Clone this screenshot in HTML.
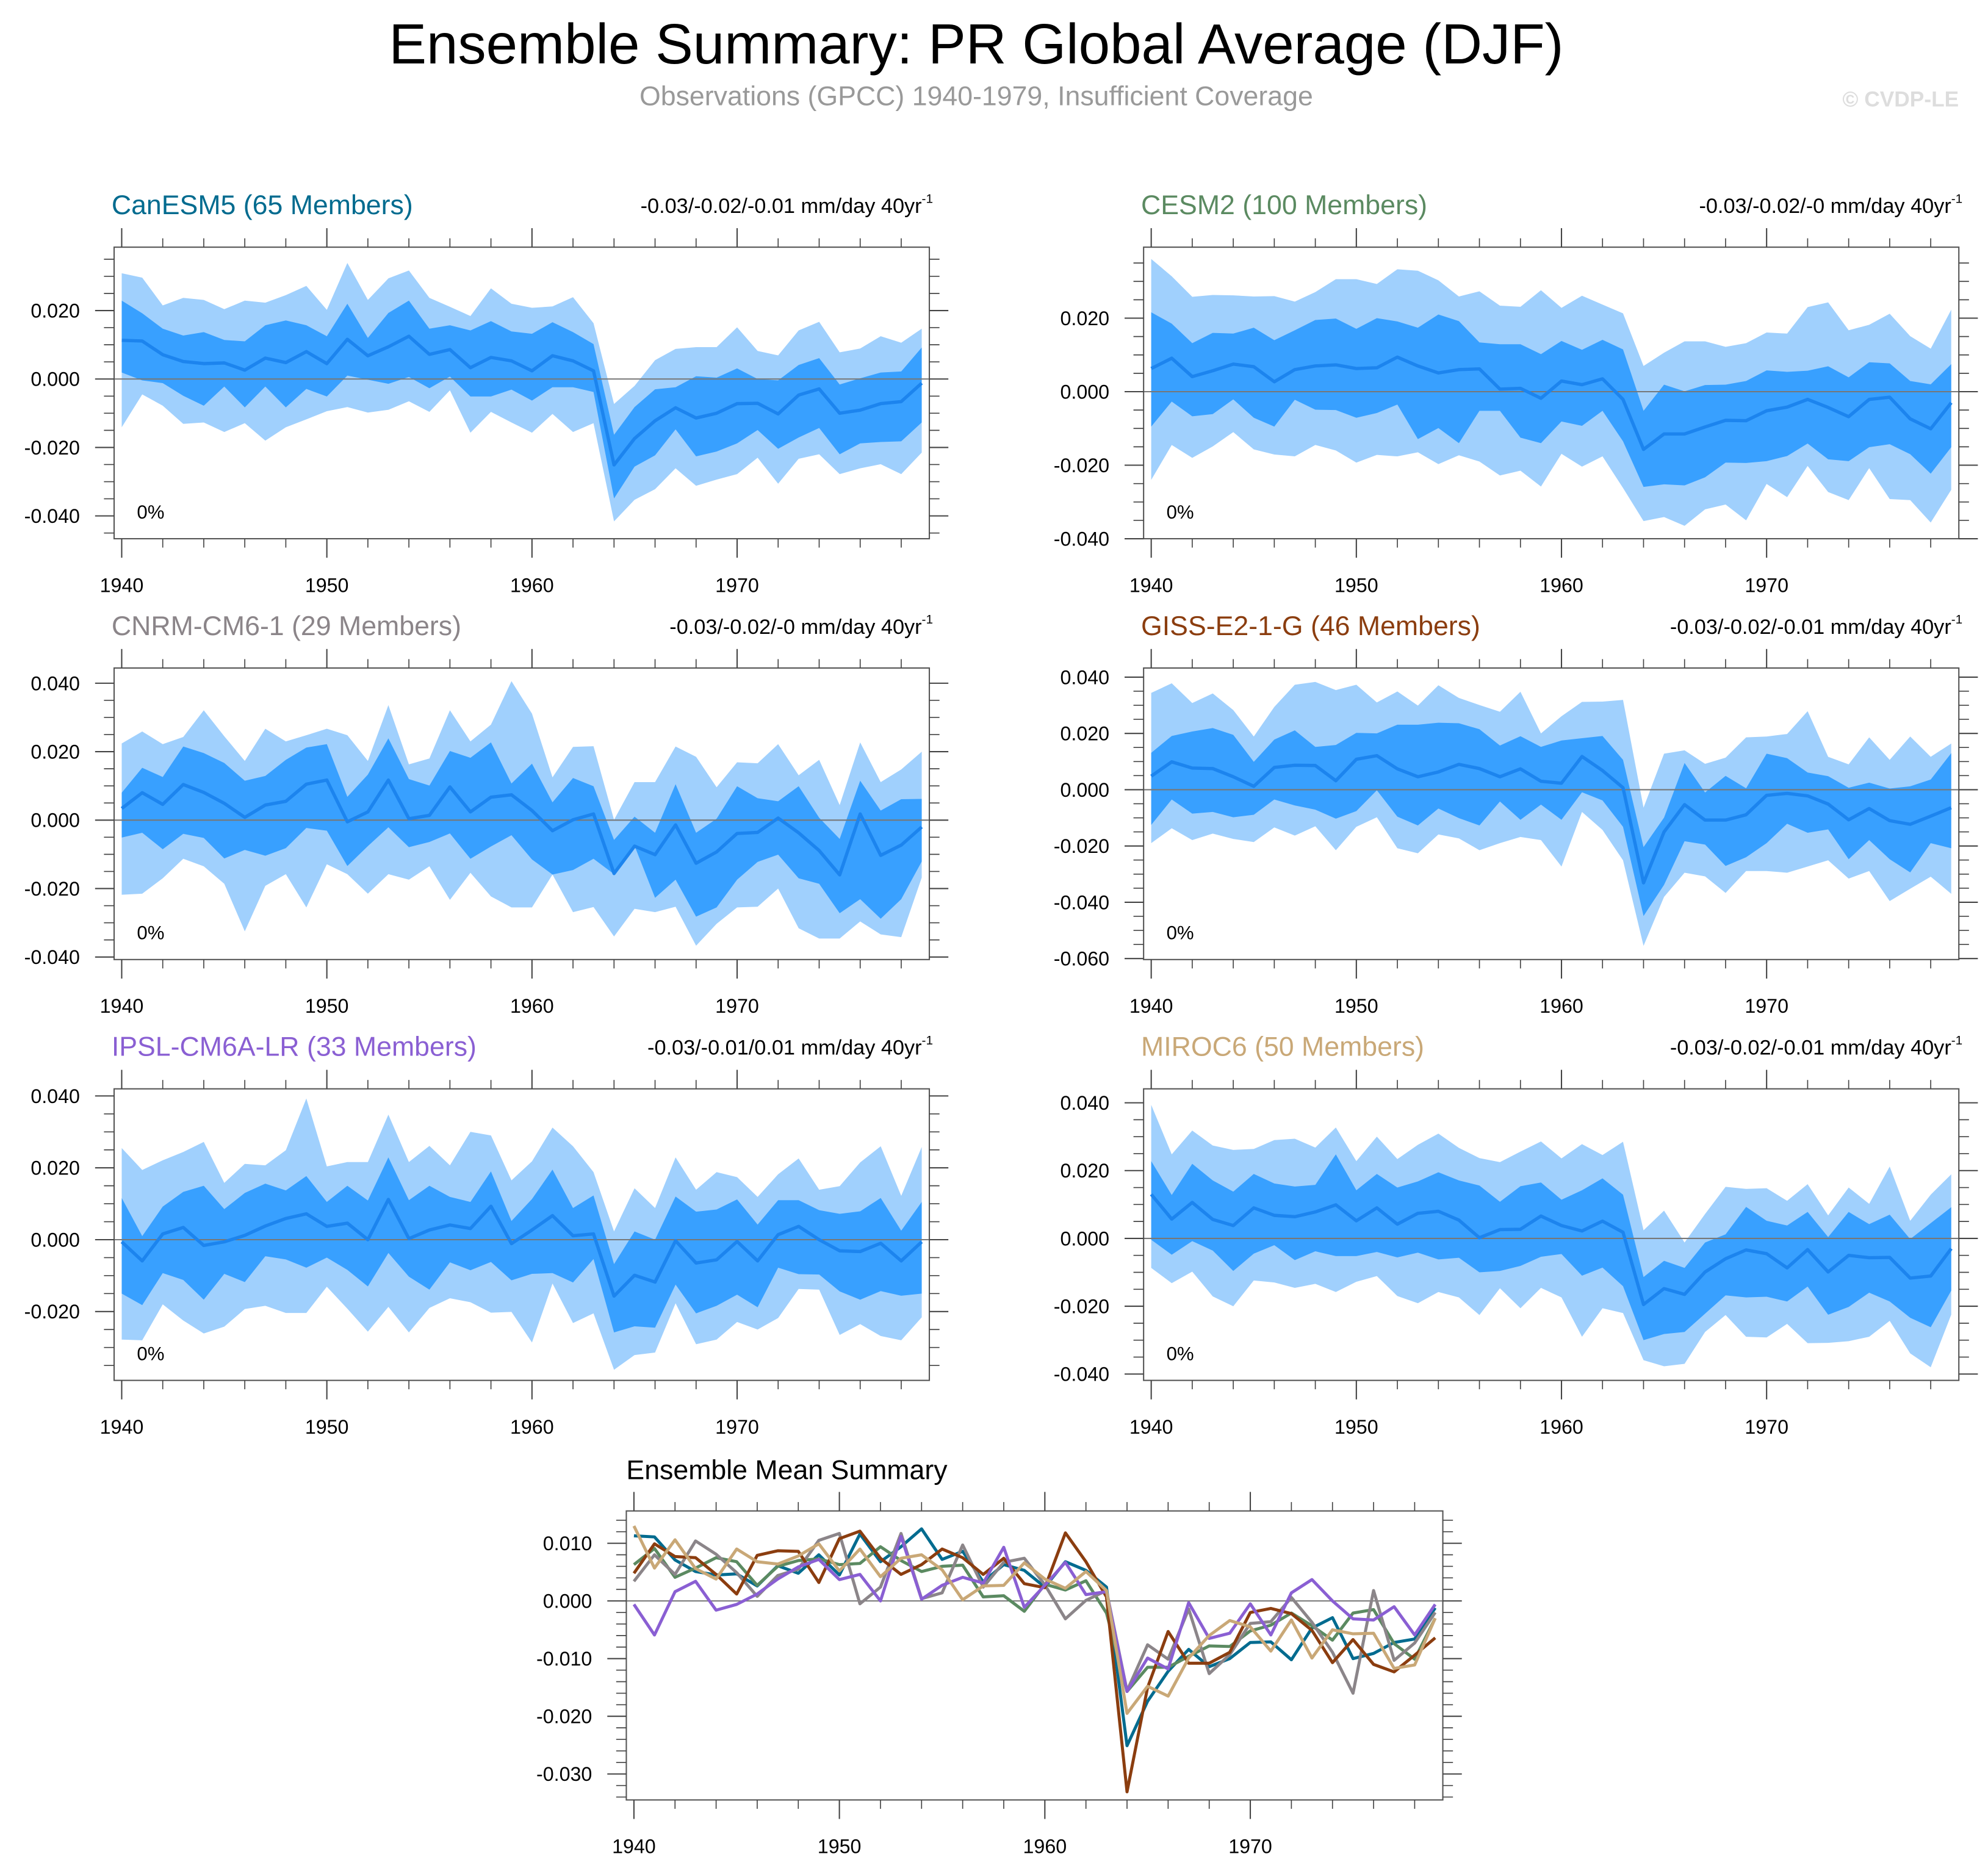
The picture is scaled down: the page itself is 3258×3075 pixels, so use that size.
<!DOCTYPE html>
<html><head><meta charset="utf-8"><title>Ensemble Summary: PR Global Average (DJF)</title>
<style>
html,body{margin:0;padding:0;background:#fff;}
svg{display:block;font-family:"Liberation Sans",sans-serif;}
</style></head>
<body>
<svg id="chart" xmlns="http://www.w3.org/2000/svg" width="3258" height="3075" viewBox="0 0 1568 1480" preserveAspectRatio="none">
<text x="770" y="50" font-size="44.5" text-anchor="middle" fill="#000">Ensemble Summary: PR Global Average (DJF)</text>
<text x="770" y="83" font-size="21.5" text-anchor="middle" fill="#999">Observations (GPCC) 1940-1979, Insufficient Coverage</text>
<text x="1545" y="84" font-size="17" font-weight="bold" text-anchor="end" fill="#ddd">© CVDP-LE</text>
<g id="panels"></g>
</svg>
<script>
const years = [];
for (let y = 1940; y <= 1979; y++) years.push(y);
const modelNames = ["CanESM5 (65 Members)","CESM2 (100 Members)","CNRM-CM6-1 (29 Members)","GISS-E2-1-G (46 Members)","IPSL-CM6A-LR (33 Members)","MIROC6 (50 Members)"];
const trendLabels = ["-0.03/-0.02/-0.01 mm/day 40yr","-0.03/-0.02/-0 mm/day 40yr","-0.03/-0.02/-0 mm/day 40yr","-0.03/-0.02/-0.01 mm/day 40yr","-0.03/-0.01/0.01 mm/day 40yr","-0.03/-0.02/-0.01 mm/day 40yr"];
const modelColors = ["#006b8f","#5b8a61","#8b8589","#8b3d0f","#8a5fd3","#c9a877"];
const xTickLabels = [1940,1950,1960,1970];

const canMean=[0.0113,0.0111,0.0071,0.0051,0.0045,0.0047,0.0026,0.0061,0.0048,0.0080,0.0045,0.0116,0.0068,0.0094,0.0125,0.0072,0.0086,0.0033,0.0063,0.0053,0.0024,0.0068,0.0053,0.0024,-0.0251,-0.0174,-0.0122,-0.0084,-0.0114,-0.0100,-0.0072,-0.0071,-0.0102,-0.0047,-0.0029,-0.0100,-0.0091,-0.0072,-0.0066,-0.0012];
const canDarkHi=[0.0229,0.0192,0.0147,0.0127,0.0137,0.0114,0.0110,0.0157,0.0171,0.0157,0.0125,0.0220,0.0120,0.0193,0.0229,0.0147,0.0157,0.0142,0.0169,0.0139,0.0132,0.0166,0.0137,0.0102,-0.0163,-0.0082,-0.0030,-0.0024,0.0008,0.0004,0.0031,0.0000,-0.0004,0.0041,0.0061,-0.0016,0.0002,0.0019,0.0022,0.0092];
const canDarkLo=[0.0019,-0.0004,-0.0012,-0.0049,-0.0078,-0.0022,-0.0083,-0.0022,-0.0083,-0.0029,-0.0051,0.0010,-0.0002,-0.0014,0.0006,-0.0027,0.0007,-0.0051,-0.0051,-0.0031,-0.0063,-0.0024,-0.0024,-0.0038,-0.0349,-0.0256,-0.0223,-0.0147,-0.0226,-0.0212,-0.0188,-0.0149,-0.0204,-0.0171,-0.0143,-0.0220,-0.0188,-0.0184,-0.0182,-0.0127];
const canLightHi=[0.0309,0.0296,0.0215,0.0237,0.0231,0.0204,0.0229,0.0223,0.0245,0.0272,0.0202,0.0339,0.0231,0.0294,0.0317,0.0237,0.0211,0.0184,0.0265,0.0220,0.0208,0.0212,0.0239,0.0163,-0.0073,-0.0020,0.0055,0.0088,0.0093,0.0093,0.0151,0.0082,0.0069,0.0142,0.0167,0.0078,0.0089,0.0125,0.0106,0.0147];
const canLightLo=[-0.0141,-0.0045,-0.0078,-0.0131,-0.0127,-0.0155,-0.0129,-0.0180,-0.0141,-0.0118,-0.0094,-0.0082,-0.0098,-0.0090,-0.0065,-0.0096,-0.0033,-0.0157,-0.0096,-0.0127,-0.0157,-0.0102,-0.0155,-0.0129,-0.0416,-0.0353,-0.0322,-0.0261,-0.0312,-0.0294,-0.0278,-0.0230,-0.0306,-0.0233,-0.0220,-0.0278,-0.0261,-0.0249,-0.0278,-0.0215];

const cesMean=[0.0063,0.0091,0.0041,0.0057,0.0075,0.0068,0.0027,0.0060,0.0070,0.0073,0.0063,0.0065,0.0094,0.0070,0.0051,0.0060,0.0062,0.0007,0.0009,-0.0018,0.0029,0.0019,0.0035,-0.0021,-0.0157,-0.0115,-0.0115,-0.0096,-0.0078,-0.0079,-0.0052,-0.0042,-0.0021,-0.0043,-0.0068,-0.0021,-0.0015,-0.0074,-0.0101,-0.0030];
const cesDarkHi=[0.0216,0.0185,0.0132,0.0160,0.0158,0.0174,0.0140,0.0167,0.0195,0.0199,0.0171,0.0200,0.0191,0.0174,0.0210,0.0192,0.0134,0.0129,0.0129,0.0102,0.0138,0.0114,0.0141,0.0115,-0.0052,0.0019,0.0001,0.0018,0.0019,0.0029,0.0058,0.0054,0.0057,0.0069,0.0039,0.0080,0.0077,0.0029,0.0020,0.0075];
const cesDarkLo=[-0.0095,-0.0027,-0.0067,-0.0061,-0.0021,-0.0071,-0.0095,-0.0022,-0.0049,-0.0050,-0.0071,-0.0058,-0.0035,-0.0129,-0.0099,-0.0140,-0.0052,-0.0052,-0.0125,-0.0140,-0.0081,-0.0093,-0.0052,-0.0135,-0.0259,-0.0252,-0.0255,-0.0233,-0.0193,-0.0194,-0.0189,-0.0175,-0.0141,-0.0184,-0.0189,-0.0151,-0.0143,-0.0170,-0.0223,-0.0151];
const cesLightHi=[0.0361,0.0314,0.0258,0.0263,0.0262,0.0259,0.0260,0.0245,0.0271,0.0306,0.0306,0.0293,0.0333,0.0329,0.0303,0.0259,0.0273,0.0234,0.0231,0.0276,0.0228,0.0261,0.0237,0.0213,0.0070,0.0106,0.0137,0.0137,0.0122,0.0132,0.0161,0.0158,0.0230,0.0243,0.0167,0.0182,0.0212,0.0151,0.0117,0.0223];
const cesLightLo=[-0.0240,-0.0145,-0.0180,-0.0149,-0.0110,-0.0157,-0.0171,-0.0176,-0.0145,-0.0160,-0.0193,-0.0172,-0.0176,-0.0165,-0.0197,-0.0173,-0.0190,-0.0228,-0.0215,-0.0258,-0.0169,-0.0204,-0.0176,-0.0262,-0.0352,-0.0341,-0.0365,-0.0320,-0.0307,-0.0350,-0.0251,-0.0287,-0.0202,-0.0273,-0.0295,-0.0208,-0.0292,-0.0295,-0.0356,-0.0267];

const cnrMean=[0.0034,0.0080,0.0046,0.0104,0.0081,0.0049,0.0008,0.0044,0.0055,0.0105,0.0117,-0.0005,0.0024,0.0117,0.0004,0.0014,0.0097,0.0024,0.0067,0.0074,0.0028,-0.0031,0.0001,0.0018,-0.0156,-0.0076,-0.0101,-0.0014,-0.0126,-0.0093,-0.0039,-0.0036,0.0006,-0.0037,-0.0089,-0.0160,0.0018,-0.0103,-0.0073,-0.0020];
const cnrDarkHi=[0.0080,0.0153,0.0126,0.0215,0.0196,0.0167,0.0115,0.0129,0.0176,0.0212,0.0222,0.0068,0.0133,0.0239,0.0120,0.0101,0.0202,0.0182,0.0227,0.0107,0.0165,0.0052,0.0123,0.0099,-0.0058,0.0010,-0.0037,0.0105,-0.0037,0.0004,0.0099,0.0064,0.0055,0.0099,0.0007,-0.0055,0.0115,0.0028,0.0061,0.0062];
const cnrDarkLo=[-0.0051,-0.0037,-0.0085,-0.0040,-0.0052,-0.0112,-0.0087,-0.0104,-0.0082,-0.0023,-0.0031,-0.0134,-0.0076,-0.0021,-0.0079,-0.0064,-0.0039,-0.0113,-0.0077,-0.0044,-0.0115,-0.0159,-0.0146,-0.0113,-0.0158,-0.0075,-0.0227,-0.0174,-0.0282,-0.0255,-0.0174,-0.0122,-0.0101,-0.0170,-0.0186,-0.0272,-0.0231,-0.0288,-0.0231,-0.0121];
const cnrLightHi=[0.0224,0.0259,0.0222,0.0243,0.0321,0.0245,0.0173,0.0267,0.0230,0.0248,0.0267,0.0248,0.0173,0.0336,0.0163,0.0180,0.0321,0.0230,0.0279,0.0406,0.0311,0.0125,0.0214,0.0216,0.0001,0.0111,0.0111,0.0215,0.0185,0.0096,0.0169,0.0166,0.0222,0.0131,0.0176,0.0044,0.0227,0.0111,0.0148,0.0200];
const cnrLightLo=[-0.0218,-0.0215,-0.0170,-0.0113,-0.0135,-0.0186,-0.0325,-0.0192,-0.0158,-0.0255,-0.0129,-0.0158,-0.0215,-0.0158,-0.0174,-0.0135,-0.0233,-0.0154,-0.0223,-0.0255,-0.0255,-0.0159,-0.0269,-0.0254,-0.0340,-0.0259,-0.0269,-0.0253,-0.0367,-0.0303,-0.0255,-0.0253,-0.0200,-0.0316,-0.0346,-0.0346,-0.0296,-0.0334,-0.0342,-0.0168];

const gisMean=[0.0048,0.0099,0.0077,0.0075,0.0046,0.0012,0.0079,0.0087,0.0086,0.0032,0.0108,0.0121,0.0074,0.0046,0.0063,0.0090,0.0075,0.0046,0.0074,0.0030,0.0023,0.0118,0.0068,0.0007,-0.0331,-0.0150,-0.0053,-0.0108,-0.0108,-0.0089,-0.0020,-0.0013,-0.0022,-0.0051,-0.0107,-0.0067,-0.0110,-0.0123,-0.0094,-0.0064];
const gisDarkHi=[0.0131,0.0191,0.0207,0.0219,0.0195,0.0099,0.0178,0.0211,0.0152,0.0159,0.0202,0.0200,0.0231,0.0231,0.0238,0.0236,0.0215,0.0157,0.0190,0.0152,0.0175,0.0183,0.0191,0.0106,-0.0204,-0.0099,0.0095,-0.0010,0.0049,0.0005,0.0128,0.0112,0.0061,0.0048,0.0007,0.0025,0.0004,0.0012,0.0036,0.0130];
const gisDarkLo=[-0.0125,-0.0035,-0.0085,-0.0079,-0.0098,-0.0089,-0.0035,-0.0056,-0.0071,-0.0103,-0.0076,-0.0002,-0.0096,-0.0127,-0.0067,-0.0101,-0.0127,-0.0042,-0.0107,-0.0053,-0.0107,-0.0009,-0.0038,-0.0132,-0.0449,-0.0338,-0.0183,-0.0195,-0.0271,-0.0240,-0.0190,-0.0121,-0.0153,-0.0141,-0.0247,-0.0179,-0.0247,-0.0294,-0.0190,-0.0208];
const gisLightHi=[0.0344,0.0378,0.0308,0.0342,0.0283,0.0189,0.0294,0.0373,0.0383,0.0354,0.0373,0.0310,0.0349,0.0299,0.0371,0.0326,0.0301,0.0277,0.0348,0.0200,0.0261,0.0312,0.0313,0.0319,-0.0064,0.0128,0.0140,0.0092,0.0114,0.0186,0.0189,0.0198,0.0279,0.0117,0.0090,0.0186,0.0106,0.0189,0.0117,0.0164];
const gisLightLo=[-0.0190,-0.0137,-0.0179,-0.0156,-0.0175,-0.0186,-0.0134,-0.0163,-0.0130,-0.0215,-0.0132,-0.0098,-0.0208,-0.0226,-0.0159,-0.0173,-0.0215,-0.0190,-0.0168,-0.0179,-0.0273,-0.0079,-0.0143,-0.0251,-0.0555,-0.0381,-0.0295,-0.0308,-0.0367,-0.0289,-0.0289,-0.0295,-0.0273,-0.0251,-0.0316,-0.0289,-0.0396,-0.0352,-0.0309,-0.0370];

const ipsMean=[-0.0006,-0.0059,0.0016,0.0034,-0.0016,-0.0006,0.0012,0.0038,0.0059,0.0072,0.0037,0.0046,0.0000,0.0112,0.0003,0.0027,0.0041,0.0031,0.0093,-0.0011,0.0027,0.0067,0.0011,0.0016,-0.0157,-0.0099,-0.0118,-0.0003,-0.0065,-0.0056,-0.0005,-0.0059,0.0014,0.0037,0.0000,-0.0031,-0.0033,-0.0010,-0.0059,-0.0006];
const ipsDarkHi=[0.0116,0.0010,0.0092,0.0133,0.0150,0.0085,0.0130,0.0156,0.0137,0.0177,0.0105,0.0150,0.0109,0.0229,0.0110,0.0150,0.0119,0.0105,0.0190,0.0052,0.0113,0.0195,0.0088,0.0123,-0.0068,0.0023,0.0000,0.0120,0.0078,0.0084,0.0112,0.0042,0.0110,0.0110,0.0082,0.0072,0.0079,0.0116,0.0025,0.0105];
const ipsDarkLo=[-0.0150,-0.0182,-0.0093,-0.0112,-0.0167,-0.0095,-0.0118,-0.0046,-0.0055,-0.0078,-0.0050,-0.0084,-0.0130,-0.0037,-0.0103,-0.0139,-0.0063,-0.0085,-0.0062,-0.0113,-0.0095,-0.0093,-0.0119,-0.0054,-0.0258,-0.0241,-0.0245,-0.0125,-0.0205,-0.0184,-0.0153,-0.0188,-0.0078,-0.0096,-0.0097,-0.0144,-0.0167,-0.0143,-0.0156,-0.0150];
const ipsLightHi=[0.0255,0.0194,0.0221,0.0244,0.0272,0.0158,0.0211,0.0207,0.0249,0.0393,0.0204,0.0216,0.0216,0.0348,0.0216,0.0261,0.0207,0.0300,0.0290,0.0165,0.0218,0.0312,0.0260,0.0188,0.0023,0.0143,0.0088,0.0229,0.0139,0.0188,0.0174,0.0119,0.0182,0.0226,0.0139,0.0149,0.0215,0.0260,0.0122,0.0258];
const ipsLightLo=[-0.0278,-0.0280,-0.0180,-0.0225,-0.0261,-0.0242,-0.0193,-0.0184,-0.0204,-0.0204,-0.0131,-0.0192,-0.0256,-0.0187,-0.0258,-0.0190,-0.0163,-0.0174,-0.0203,-0.0201,-0.0286,-0.0122,-0.0232,-0.0205,-0.0362,-0.0321,-0.0314,-0.0177,-0.0291,-0.0278,-0.0229,-0.0250,-0.0218,-0.0137,-0.0139,-0.0265,-0.0235,-0.0268,-0.0280,-0.0216];

const mirMean=[0.0130,0.0057,0.0106,0.0056,0.0038,0.0090,0.0068,0.0064,0.0078,0.0099,0.0052,0.0090,0.0042,0.0074,0.0080,0.0054,0.0002,0.0026,0.0027,0.0066,0.0038,0.0022,0.0051,0.0018,-0.0195,-0.0148,-0.0165,-0.0099,-0.0060,-0.0034,-0.0045,-0.0087,-0.0033,-0.0099,-0.0050,-0.0057,-0.0056,-0.0117,-0.0111,-0.0030];
const mirDarkHi=[0.0228,0.0128,0.0220,0.0171,0.0138,0.0190,0.0162,0.0153,0.0158,0.0248,0.0142,0.0190,0.0150,0.0168,0.0195,0.0171,0.0156,0.0108,0.0154,0.0165,0.0114,0.0142,0.0177,0.0129,-0.0114,-0.0066,-0.0087,-0.0012,0.0012,0.0093,0.0052,0.0038,0.0078,0.0004,0.0078,0.0042,0.0070,-0.0002,0.0045,0.0092];
const mirDarkLo=[-0.0004,-0.0048,-0.0008,-0.0036,-0.0096,-0.0045,-0.0020,-0.0064,-0.0038,-0.0052,-0.0052,-0.0040,-0.0056,-0.0042,-0.0062,-0.0057,-0.0100,-0.0096,-0.0081,-0.0054,-0.0046,-0.0110,-0.0086,-0.0141,-0.0300,-0.0282,-0.0276,-0.0222,-0.0168,-0.0174,-0.0172,-0.0186,-0.0142,-0.0225,-0.0202,-0.0160,-0.0186,-0.0234,-0.0262,-0.0154];
const mirLightHi=[0.0394,0.0248,0.0318,0.0274,0.0261,0.0264,0.0290,0.0294,0.0268,0.0327,0.0228,0.0300,0.0234,0.0276,0.0309,0.0267,0.0237,0.0225,0.0256,0.0286,0.0236,0.0278,0.0246,0.0285,0.0024,0.0082,-0.0012,0.0072,0.0152,0.0146,0.0148,0.0111,0.0160,0.0068,0.0150,0.0102,0.0212,0.0052,0.0129,0.0189];
const mirLightLo=[-0.0087,-0.0132,-0.0098,-0.0171,-0.0200,-0.0124,-0.0130,-0.0146,-0.0134,-0.0158,-0.0128,-0.0111,-0.0170,-0.0191,-0.0158,-0.0174,-0.0226,-0.0147,-0.0206,-0.0146,-0.0174,-0.0290,-0.0206,-0.0220,-0.0359,-0.0377,-0.0370,-0.0276,-0.0226,-0.0290,-0.0292,-0.0252,-0.0309,-0.0308,-0.0303,-0.0290,-0.0243,-0.0339,-0.0380,-0.0225];

const yTicks1=[0.02,0,-0.02,-0.04];
const yTicks2=[0.02,0,-0.02,-0.04];
const yTicks3=[0.04,0.02,0,-0.02,-0.04];
const yTicks4=[0.04,0.02,0,-0.02,-0.04,-0.06];
const yTicks5=[0.04,0.02,0,-0.02];
const yTicks6=[0.04,0.02,0,-0.02,-0.04];
const yTicksSummary=[0.01,0,-0.01,-0.02,-0.03];

const NS="http://www.w3.org/2000/svg";
const root=document.getElementById('panels');
function mk(tag,attrs,parent){const e=document.createElementNS(NS,tag);for(const k in attrs)e.setAttribute(k,attrs[k]);(parent||root).appendChild(e);return e;}

function makeAxes(L){
  const xs=y=>L.x0+6+(y-1940)*(L.x1-L.x0-12)/39;
  const ys=v=>L.zeroY-v*100*L.pxPer;
  return {xs,ys};
}
function fmt(v){return v.toFixed(3);}

function drawFrame(g,L,ax,yTicks,minorStep){
  const tickCol="#444";
  const vTop=(L.zeroY-L.y0)/(L.pxPer*100), vBot=(L.zeroY-L.y1)/(L.pxPer*100);
  for(let k=Math.ceil(vBot/minorStep-1e-6);k*minorStep<=vTop+1e-9;k++){
    const v=k*minorStep, y=ax.ys(v);
    const major=yTicks.some(t=>Math.abs(t-v)<1e-9);
    const len=major?15:8;
    const t1=mk('line',{x1:L.x0-len,x2:L.x0,y1:y,y2:y,stroke:tickCol,'stroke-width':major?1:0.8},g);
    
    
    const t2=mk('line',{x1:L.x1,x2:L.x1+len,y1:y,y2:y,stroke:tickCol,'stroke-width':major?1:0.8},g);
    
    
  }
  yTicks.forEach(v=>{
    const t=mk('text',{x:L.x0-27,y:ax.ys(v)+5.5,'font-size':15.5,'text-anchor':'end',fill:'#000'},g);
    t.textContent=fmt(v);
    
    
  });
  for(let yr=1940;yr<=1979;yr+=2){
    const x=ax.xs(yr), major=yr%10===0, len=major?15:7;
    const a=mk('line',{x1:x,x2:x,y1:L.y0-len,y2:L.y0,stroke:tickCol,'stroke-width':major?1:0.8},g);
    
    
    const b=mk('line',{x1:x,x2:x,y1:L.y1,y2:L.y1+len,stroke:tickCol,'stroke-width':major?1:0.8},g);
    
    
  }
  xTickLabels.forEach(yr=>{
    const t=mk('text',{x:ax.xs(yr),y:L.y1+42,'font-size':15.5,'text-anchor':'middle',fill:'#000'},g);
    t.textContent=String(yr);
    
    
  });
}

function polyPath(ax,hi,lo){
  let d='';
  hi.forEach((v,i)=>{d+=(i?'L':'M')+ax.xs(years[i]).toFixed(2)+','+ax.ys(v).toFixed(2);});
  for(let i=lo.length-1;i>=0;i--)d+='L'+ax.xs(years[i]).toFixed(2)+','+ax.ys(lo[i]).toFixed(2);
  return d+'Z';
}
function linePath(ax,arr){
  return arr.map((v,i)=>(i?'L':'M')+ax.xs(years[i]).toFixed(2)+','+ax.ys(v).toFixed(2)).join('');
}

const panels=[
 {L:{x0:90,x1:733,y0:195,y1:425,zeroY:299,pxPer:27},t:yTicks1,mean:canMean,dh:canDarkHi,dl:canDarkLo,lh:canLightHi,ll:canLightLo},
 {L:{x0:902,x1:1545,y0:195,y1:425,zeroY:309,pxPer:29},t:yTicks2,mean:cesMean,dh:cesDarkHi,dl:cesDarkLo,lh:cesLightHi,ll:cesLightLo},
 {L:{x0:90,x1:733,y0:527,y1:757,zeroY:647,pxPer:27},t:yTicks3,mean:cnrMean,dh:cnrDarkHi,dl:cnrDarkLo,lh:cnrLightHi,ll:cnrLightLo},
 {L:{x0:902,x1:1545,y0:527,y1:757,zeroY:623,pxPer:22.2},t:yTicks4,mean:gisMean,dh:gisDarkHi,dl:gisDarkLo,lh:gisLightHi,ll:gisLightLo},
 {L:{x0:90,x1:733,y0:859,y1:1089,zeroY:978,pxPer:28.35},t:yTicks5,mean:ipsMean,dh:ipsDarkHi,dl:ipsDarkLo,lh:ipsLightHi,ll:ipsLightLo},
 {L:{x0:902,x1:1545,y0:859,y1:1089,zeroY:977,pxPer:26.75},t:yTicks6,mean:mirMean,dh:mirDarkHi,dl:mirDarkLo,lh:mirLightHi,ll:mirLightLo}
];

panels.forEach((p,idx)=>{
  const g=mk('g',{});
  
  
  const L=p.L, ax=makeAxes(L);
  const bg=mk('rect',{x:L.x0,y:L.y0,width:L.x1-L.x0,height:L.y1-L.y0,fill:'#fff'},g);
  
  
  const clip=mk('clipPath',{id:'clip'+idx},g);
  mk('rect',{x:L.x0,y:L.y0,width:L.x1-L.x0,height:L.y1-L.y0},clip);
  const inner=mk('g',{'clip-path':'url(#clip'+idx+')'},g);
  const lb=mk('path',{d:polyPath(ax,p.lh,p.ll),fill:'#a0d0fd'},inner);
  
  
  const db=mk('path',{d:polyPath(ax,p.dh,p.dl),fill:'#38a0ff'},inner);
  
  
  const z=mk('line',{x1:L.x0,x2:L.x1,y1:ax.ys(0),y2:ax.ys(0),stroke:'#777','stroke-width':1},inner);
  
  
  const ml=mk('path',{d:linePath(ax,p.mean),fill:'none',stroke:'#1c84ee','stroke-width':2.6,'stroke-linejoin':'round'},inner);
  
  
  const fr=mk('rect',{x:L.x0,y:L.y0,width:L.x1-L.x0,height:L.y1-L.y0,fill:'none',stroke:'#555','stroke-width':1},g);
  
  
  drawFrame(g,L,ax,p.t,0.005);
  const tt=mk('text',{x:L.x0-2,y:L.y0-26,'font-size':21.5,fill:modelColors[idx]},g);
  tt.textContent=modelNames[idx];
  
  
  const tr=mk('text',{x:L.x1-6,y:L.y0-27,'font-size':16.5,'text-anchor':'end',fill:'#000'},g);
  tr.textContent=trendLabels[idx];
  
  
  const sup=mk('text',{x:L.x1-6,y:L.y0-35,'font-size':10,'text-anchor':'start',fill:'#000'},g);
  sup.textContent='-1';
  
  
  const pc=mk('text',{x:L.x0+18,y:L.y1-16,'font-size':15,fill:'#000'},g);
  pc.textContent='0%';
  
  
});

(function(){
  const L={x0:494,x1:1138,y0:1192,y1:1420,zeroY:1263,pxPer:45.5};
  const ax=makeAxes(L);
  const g=mk('g',{});
  
  
  const clip=mk('clipPath',{id:'clipS'},g);
  mk('rect',{x:L.x0,y:L.y0,width:L.x1-L.x0,height:L.y1-L.y0},clip);
  const inner=mk('g',{'clip-path':'url(#clipS)'},g);
  const z=mk('line',{x1:L.x0,x2:L.x1,y1:ax.ys(0),y2:ax.ys(0),stroke:'#777','stroke-width':1},inner);
  
  
  const series=[canMean,cesMean,cnrMean,gisMean,ipsMean,mirMean];
  series.forEach((s,i)=>{
    const p=mk('path',{d:linePath(ax,s),fill:'none',stroke:modelColors[i],'stroke-width':2.4,'stroke-linejoin':'round'},inner);
    
    
  });
  const fr=mk('rect',{x:L.x0,y:L.y0,width:L.x1-L.x0,height:L.y1-L.y0,fill:'none',stroke:'#555','stroke-width':1},g);
  
  
  drawFrame(g,L,ax,yTicksSummary,0.002);
  const tt=mk('text',{x:L.x0,y:L.y0-25,'font-size':21.5,fill:'#000'},g);
  tt.textContent='Ensemble Mean Summary';
  
  
})();
</script>
</body></html>
